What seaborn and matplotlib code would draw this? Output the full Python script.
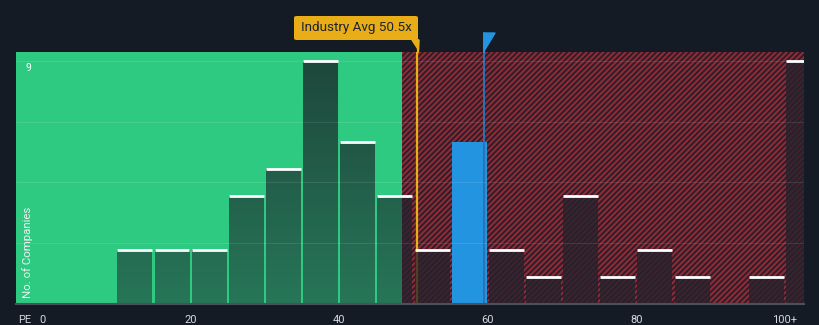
import numpy as np
import pandas as pd
import matplotlib
matplotlib.use("Agg")
import matplotlib.pyplot as plt
from matplotlib.patches import FancyBboxPatch, Polygon
from matplotlib.colors import LinearSegmentedColormap
import seaborn as sns

# PE distribution of peer companies (bins of width 5, last bin is 100+)
bin_left = [0, 5, 10, 15, 20, 25, 30, 35, 40, 45, 50, 55, 60, 65, 70, 75, 80, 85, 90, 95, 100]
counts = [0, 0, 2, 2, 2, 4, 5, 9, 6, 4, 2, 6, 2, 1, 4, 1, 2, 1, 0, 1, 9]
tick_values = [0, 20, 40, 60, 80, 100]
tick_labels = ["0", "20", "40", "60", "80", "100+"]
industry_avg = 50.5
company_pe = 59.5
fair_limit = 48.45
bin_width = 5

BG = "#151b24"
GREEN = "#2fca81"
HATCH_BG = "#271d28"
HATCH_RED = "#8a2b37"
BLUE = "#2394e0"
ORANGE = "#e8ad17"

sns.set_theme(style="white")
plt.rcParams["font.family"] = ["Roboto", "DejaVu Sans"]
plt.rcParams["hatch.linewidth"] = 1.6

W, H = 820, 325
fig = plt.figure(figsize=(W / 100, H / 100), dpi=100, facecolor=BG)
ax = fig.add_axes([16 / W, (H - 304) / H, (804 - 16) / W, (304 - 52) / H])
ax.set_facecolor(BG)

xmin, xmax = -3.5, 102.56
ymax = 9.33

df = pd.DataFrame({"pe": np.array(bin_left) + bin_width / 2, "n": counts})
edges = list(bin_left) + [bin_left[-1] + bin_width]
sns.histplot(data=df, x="pe", weights="n", bins=edges, shrink=0.94,
             color="#25222c", alpha=0.78, edgecolor="none", linewidth=0,
             ax=ax, zorder=3)
bars = list(ax.patches)

# background zones
ax.axvspan(xmin, fair_limit, color=GREEN, lw=0, zorder=0)
ax.axvspan(fair_limit, xmax, facecolor=HATCH_BG, edgecolor=HATCH_RED,
           hatch="//////", lw=0, zorder=0)

# industry average marker line
ax.axvline(industry_avg, ymin=0, ymax=1, color=ORANGE, lw=1.6, zorder=2)
fig.add_artist(plt.Line2D([418.5 / W, 418.5 / W], [(H - 52) / H, (H - 40) / H],
                          color=ORANGE, lw=1.6))

# gradient used for bars sitting in the green zone
grad_cmap = LinearSegmentedColormap.from_list("g", ["#277658", "#1d463b"])
grad = np.linspace(0, 1, 256).reshape(-1, 1)

for p in bars:
    x0 = p.get_x()
    w = p.get_width()
    h = p.get_height()
    if h <= 0:
        continue
    if x0 <= company_pe <= x0 + w + 0.2:
        p.set_facecolor(BLUE)
        p.set_alpha(1)
        p.set_zorder(4)
        continue
    if x0 < fair_limit:
        im = ax.imshow(grad, extent=[x0, min(x0 + w, fair_limit), 0, ymax],
                       origin="lower", cmap=grad_cmap, aspect="auto",
                       zorder=3.5, interpolation="bilinear")
        im.set_clip_path(p)
    ax.plot([x0, x0 + w], [h, h], color="white", lw=2, zorder=5,
            solid_capstyle="butt")

# company marker line and flag
ax.axvline(company_pe, color="#2a73b8", lw=1.4, zorder=4.5)
fx = (42 + company_pe * 7.43) / W
fig.add_artist(plt.Line2D([fx, fx], [(H - 52) / H, (H - 33) / H], color=BLUE, lw=1.4))
fig.add_artist(Polygon([[fx, (H - 33) / H], [fx + 11 / W, (H - 33) / H],
                        [fx, (H - 51) / H]], closed=True, color=BLUE))

# faint horizontal grid
for gy in [2.25, 4.5, 6.75, 9]:
    ax.axhline(gy, color="white", alpha=0.1, lw=0.8, zorder=6)

ax.set_xlim(xmin, xmax)
ax.set_ylim(0, ymax)
ax.set_xticks(np.arange(0, 101, 5), minor=False)
ax.set_xticklabels(["" for _ in range(21)])
for v, lab in zip(tick_values, tick_labels):
    ax.text(v, -0.6, lab, ha="center", va="center", color="#d6d9de",
            fontsize=8, transform=ax.transData, clip_on=False)
ax.tick_params(axis="x", length=4, width=1, color="#505762", direction="out", pad=2)
ax.set_yticks([])
ax.set_xlabel("")
ax.set_ylabel("")
for s in ["top", "left", "right"]:
    ax.spines[s].set_visible(False)
ax.spines["bottom"].set_color("#4a515c")
ax.spines["bottom"].set_linewidth(1.5)
ax.spines["bottom"].set_zorder(7)

fig.text(18 / W, (H - 320) / H, "PE", color="#d6d9de", fontsize=8, va="center", ha="left")
ax.text((26 - 16) / 788, (304 - 68) / 252, "9", transform=ax.transAxes,
        color="white", fontsize=7.5, va="center", ha="left", zorder=8)
ax.text((28 - 16) / 788, (304 - 252) / 252, "No. of Companies", transform=ax.transAxes,
        color="#eef2f0", fontsize=8.2, rotation=90, va="center", ha="center", zorder=8)

# industry average label box
box = FancyBboxPatch((294 / W, (H - 40) / H), (418 - 294) / W, 24 / H,
                     boxstyle="round,pad=0,rounding_size=0.004",
                     transform=fig.transFigure, facecolor=ORANGE, edgecolor="none")
fig.add_artist(box)
fig.add_artist(Polygon([[412 / W, (H - 40) / H], [419 / W, (H - 40) / H],
                        [418.5 / W, (H - 50) / H]], closed=True, color=ORANGE))
fig.text(301 / W, (H - 28) / H, "Industry Avg 50.5x", color="#1d2530",
         fontsize=9.7, va="center", ha="left")

fig.savefig("out.png", dpi=100, facecolor=BG)
